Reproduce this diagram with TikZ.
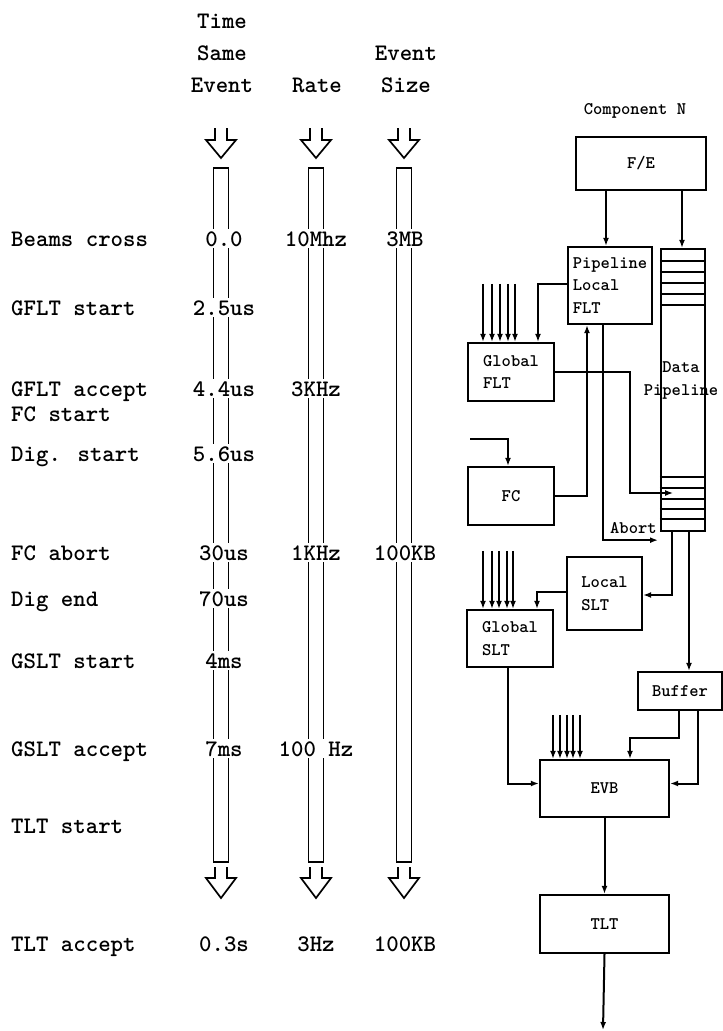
\documentclass[tikz,border=0pt]{standalone}
\usepackage{fontspec}
\usetikzlibrary{arrows.meta}
\newcommand\tw{\ttfamily\bfseries}
\begin{document}
\begin{tikzpicture}[x=1pt,y=-1pt,
  big/.style={font=\tw\fontsize{23.7}{26}\selectfont, inner sep=0pt},
  lab/.style={big, anchor=base west},
  hdr/.style={big, anchor=base},
  val/.style={big, anchor=base, fill=white, inner sep=2pt},
  box/.style={draw, line width=2.3pt, inner sep=0pt, align=left,
    font=\tw\fontsize{17.7}{22.5}\selectfont},
  small/.style={font=\tw\fontsize{17.7}{22.5}\selectfont, inner sep=0pt},
  arr/.style={line width=2pt, -{Latex[length=8pt,width=6pt]}},
  bar/.style={line width=1.6pt},
  hollow/.style={line width=1.7pt, line join=miter}]
\useasboundingbox (0,0) rectangle (723,1031);

% ---- headers ----
\node[hdr] (hTime)  at (222,28) {Time};
\node[hdr] (hSame)  at (222,60) {Same};
\node[hdr] (hEvent) at (222,92) {Event};
\node[hdr] (hRate)  at (317,92) {Rate};
\node[hdr] (hEvt2)  at (406,60) {Event};
\node[hdr] (hSize)  at (406,92) {Size};

% ---- hollow arrows and bars ----
\foreach \cx in {221,316,404}{
  \draw[hollow] (\cx-6,128) -- (\cx-6,140) -- (\cx-15,140) -- (\cx,158)
        -- (\cx+15,140) -- (\cx+6,140) -- (\cx+6,128);
  \draw[bar] (\cx-7.5,168) rectangle (\cx+7.5,862);
  \draw[hollow] (\cx-6,867) -- (\cx-6,878) -- (\cx-15,878) -- (\cx,898)
        -- (\cx+15,878) -- (\cx+6,878) -- (\cx+6,867);
}

% ---- row labels ----
\node[lab] (r1)  at (11,246) {Beams cross};
\node[lab] (r2)  at (11,315) {GFLT start};
\node[lab] (r3)  at (11,396) {GFLT accept};
\node[lab] (r3b) at (11,421) {FC start};
\node[lab] (r4)  at (11,461) {Dig. start};
\node[lab] (r5)  at (11,560) {FC abort};
\node[lab] (r6)  at (11,606) {Dig end};
\node[lab] (r7)  at (11,668) {GSLT start};
\node[lab] (r8)  at (11,756) {GSLT accept};
\node[lab] (r9)  at (11,833) {TLT start};
\node[lab] (r10) at (11,951) {TLT accept};

% ---- values ----
\node[val] (t1) at (224,246) {0.0};
\node[val] (t2) at (224,315) {2.5us};
\node[val] (t3) at (224,396) {4.4us};
\node[val] (t4) at (224,461) {5.6us};
\node[val] (t5) at (224,560) {30us};
\node[val] (t6) at (224,606) {70us};
\node[val] (t7) at (224,668) {4ms};
\node[val] (t8) at (224,756) {7ms};
\node[val] (t9) at (224,951) {0.3s};
\node[val] (q1) at (316,246) {10Mhz};
\node[val] (q3) at (316,396) {3KHz};
\node[val] (q5) at (316,560) {1KHz};
\node[val] (q8) at (316,756) {100 Hz};
\node[val] (q9) at (316,951) {3Hz};
\node[val] (s1) at (405,246) {3MB};
\node[val] (s5) at (405,560) {100KB};
\node[val] (s9) at (405,951) {100KB};

% ---- right diagram ----
\node[small, anchor=base] (comp) at (635,114) {Component N};
\node[box, minimum width=130pt, minimum height=53pt, align=center] (fe) at (641,163.5) {F/E};
\node[box, minimum width=84pt, minimum height=77pt] (plflt) at (610,285.5) {Pipeline\\Local\\FLT};
\node[draw, line width=2.3pt, minimum width=44pt, minimum height=282pt, inner sep=0pt] (pipe) at (683,390) {};
\foreach \yy in {13,24,35,46,57, 229,240,251,261,271}
  \draw[line width=2pt] ([yshift=-\yy pt]pipe.north west) -- ([yshift=-\yy pt]pipe.north east);
\node[small, anchor=base] (dp1) at (681,372) {Data};
\node[small, anchor=base] (dp2) at (681,395) {Pipeline};
\node[box, minimum width=86pt, minimum height=58pt] (gflt) at (511,372) {Global\\FLT};
\node[box, minimum width=86pt, minimum height=58pt, align=center] (fc) at (511,496) {FC};
\node[box, minimum width=75pt, minimum height=73pt] (lslt) at (604.5,593.5) {Local\\SLT};
\node[box, minimum width=86pt, minimum height=57pt] (gslt) at (510,638.5) {Global\\SLT};
\node[box, minimum width=84pt, minimum height=38pt, align=center] (buf) at (680,691) {Buffer};
\node[box, minimum width=129pt, minimum height=57pt, align=center] (evb) at (604.5,788.5) {EVB};
\node[box, minimum width=129pt, minimum height=58pt, align=center] (tlt) at (604.5,924) {TLT};
\node[small, anchor=base west] (abort) at (610,533) {Abort};
\coordinate (fcin) at (470,439);
\coordinate (tltout) at (603,1030);

% connectors
\draw[arr] ([xshift=-35pt]fe.south) -- ([xshift=-35pt]fe.south |- plflt.north);
\draw[arr] ([xshift=41pt]fe.south) -- ([xshift=41pt]fe.south |- pipe.north);
\draw[arr] ([yshift=2pt]plflt.west) -| ([xshift=27pt]gflt.north);
\foreach \dx in {-28,-19,-11,-3,4}
  \draw[arr] ([xshift=\dx pt, yshift=58pt]gflt.north) -- ([xshift=\dx pt]gflt.north);
\draw[arr] (gflt.east) -- ++(75,0) -- ++(0,121) -- ++(43,0);
\draw[arr] (fcin) -| ([xshift=-3pt]fc.north);
\draw[arr] (fc.east) -| ([xshift=-23pt]plflt.south);
\draw[arr] ([xshift=-7pt]plflt.south) -- ++(0,215) -- ++(55,0);
\draw[arr] ([xshift=-11pt]pipe.south) |- ([yshift=-1.5pt]lslt.east);
\draw[arr] ([xshift=6pt]pipe.south) -- ([xshift=6pt]pipe.south |- buf.north);
\draw[arr] ([yshift=2pt]lslt.west) -| ([xshift=27pt]gslt.north);
\foreach \dx in {-27,-18,-11,-3,3}
  \draw[arr] ([xshift=\dx pt, yshift=58pt]gslt.north) -- ([xshift=\dx pt]gslt.north);
\draw[arr] ([xshift=-2pt]gslt.south) |- ([yshift=5pt]evb.west);
\draw[arr] ([xshift=-1pt]buf.south) -- ++(0,27) -| ([xshift=25.5pt]evb.north);
\draw[arr] ([xshift=18pt]buf.south) |- ([yshift=5pt]evb.east);
\foreach \dx in {-51.5,-44.5,-37.5,-31.5,-24.5}
  \draw[arr] ([xshift=\dx pt, yshift=44pt]evb.north) -- ([xshift=\dx pt]evb.north);
\draw[arr] (evb.south) -- (tlt.north);
\draw[arr] (tlt.south) -- (tltout);
\end{tikzpicture}
\end{document}
